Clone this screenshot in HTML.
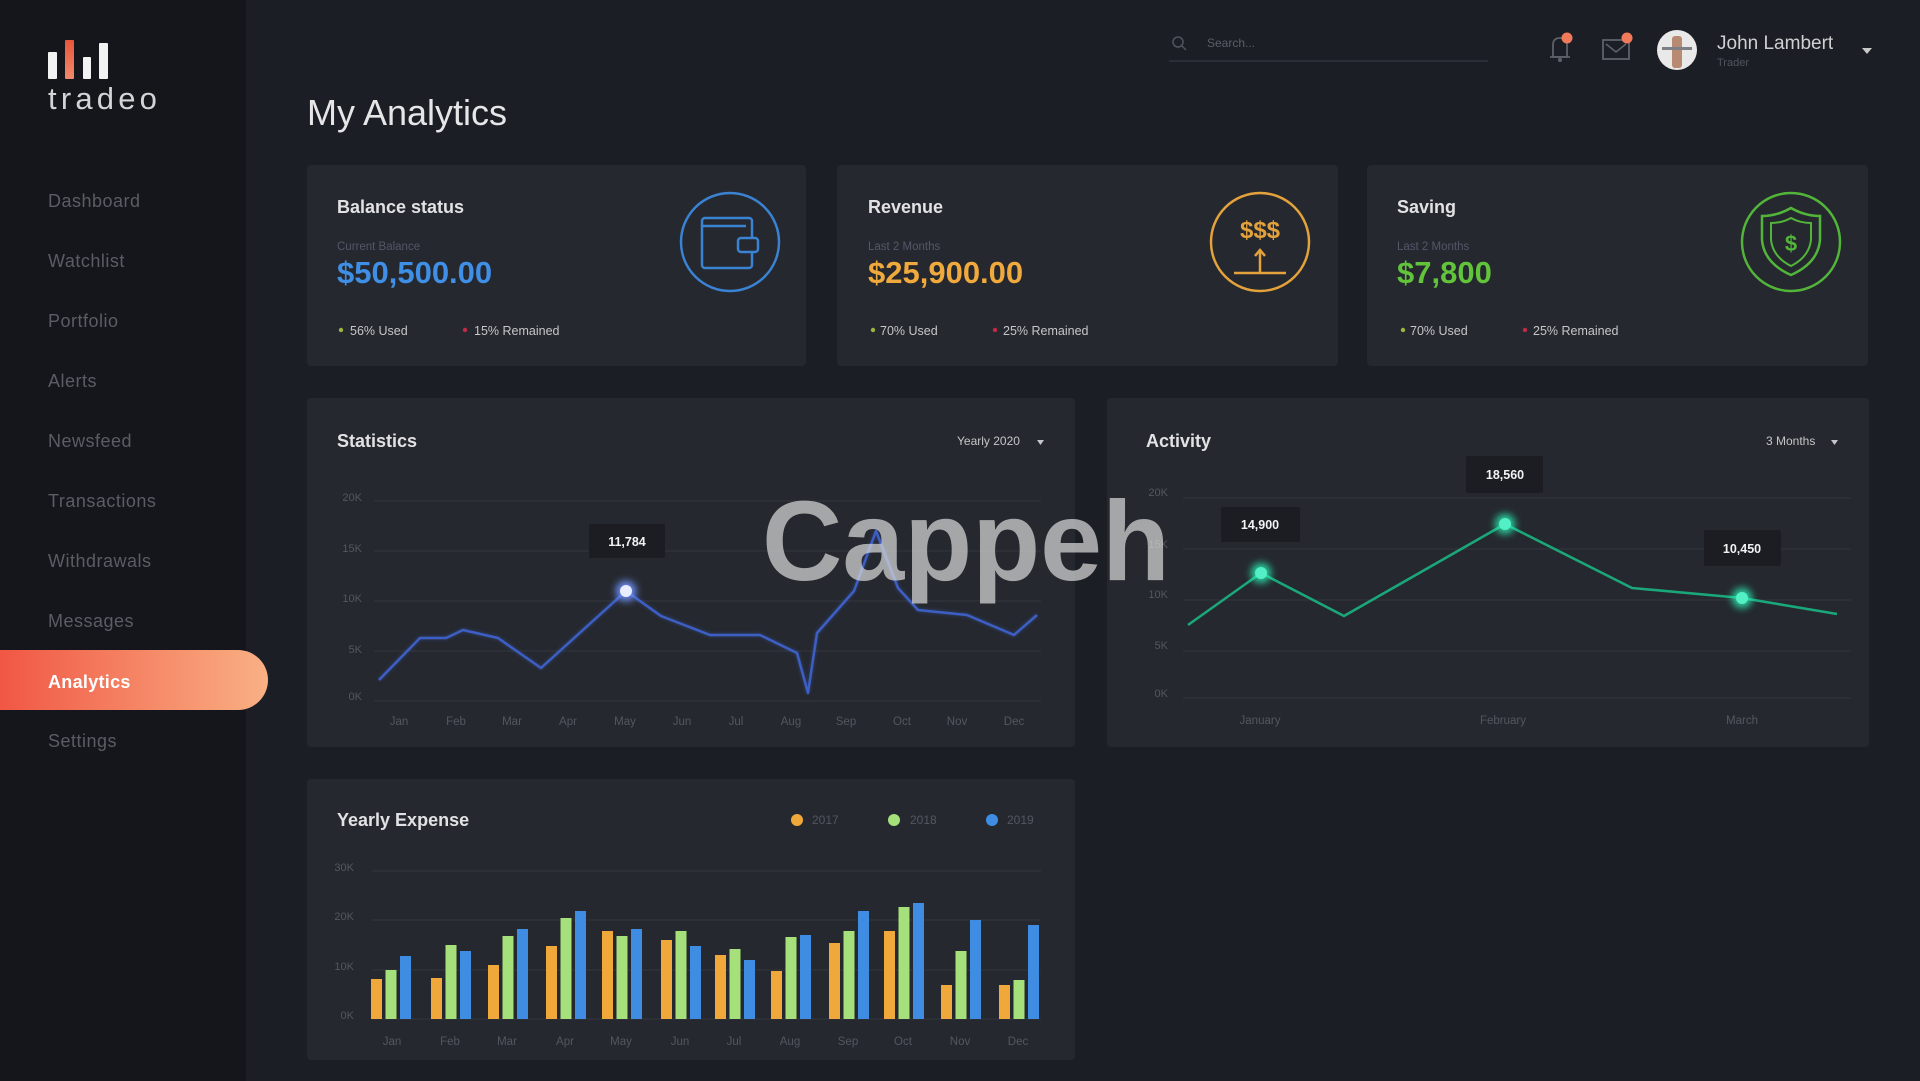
<!DOCTYPE html>
<html><head><meta charset="utf-8"><title>tradeo - My Analytics</title>
<style>
html,body{margin:0;padding:0;background:#1c1e25;width:1920px;height:1081px;overflow:hidden;}
svg{display:block;}
text{font-family:"Liberation Sans",sans-serif;}
</style></head>
<body>
<svg width="1920" height="1081" viewBox="0 0 1920 1081" xmlns="http://www.w3.org/2000/svg">
<defs>
 <linearGradient id="pill" x1="0" x2="1" y1="0" y2="0"><stop offset="0" stop-color="#ef4a3b"/><stop offset="1" stop-color="#f9b084"/></linearGradient>
 <linearGradient id="obar" x1="0" x2="0" y1="0" y2="1"><stop offset="0" stop-color="#e8553c"/><stop offset="1" stop-color="#f08a6a"/></linearGradient>
 <filter id="glow" x="-2" y="-2" width="5" height="5"><feGaussianBlur stdDeviation="4"/></filter>
 <filter id="soft" x="-0.1" y="-0.5" width="1.2" height="2"><feGaussianBlur stdDeviation="1.5"/></filter>
</defs>

<rect width="1920" height="1081" fill="#1c1e25"/>
<rect width="246" height="1081" fill="#14161b"/>

<rect x="48" y="52" width="9" height="27" rx="1" fill="#f2f2f2"/>
<rect x="65" y="40" width="9" height="39" rx="1" fill="url(#obar)"/>
<rect x="83" y="57" width="8" height="22" rx="1" fill="#f2f2f2"/>
<rect x="99" y="43" width="9" height="36" rx="1" fill="#f2f2f2"/>
<text x="48" y="109" font-size="31" fill="#d4d4d6" letter-spacing="4.2">tradeo</text>

<g font-size="18" fill="#5a5d65" letter-spacing="0.5">
 <text x="48" y="207">Dashboard</text>
 <text x="48" y="267">Watchlist</text>
 <text x="48" y="327">Portfolio</text>
 <text x="48" y="387">Alerts</text>
 <text x="48" y="447">Newsfeed</text>
 <text x="48" y="507">Transactions</text>
 <text x="48" y="567">Withdrawals</text>
 <text x="48" y="627">Messages</text>
 <text x="48" y="747">Settings</text>
</g>
<rect x="-40" y="650" width="308" height="60" rx="30" fill="url(#pill)"/>
<text x="48" y="688" font-size="18" font-weight="bold" fill="#ffffff" letter-spacing="0.3">Analytics</text>

<circle cx="1178" cy="42" r="5" fill="none" stroke="#50545c" stroke-width="1.5"/>
<line x1="1182" y1="46" x2="1186" y2="50" stroke="#50545c" stroke-width="1.5"/>
<text x="1207" y="47" font-size="12" fill="#5a5e66">Search...</text>
<line x1="1169" y1="61" x2="1488" y2="61" stroke="#2a2d35" stroke-width="2"/>
<path d="M1553 57 L1553 45 Q1553 38 1560 38 Q1567 38 1567 45 L1567 57 Z" fill="none" stroke="#5d6169" stroke-width="1.8"/>
<line x1="1550" y1="57" x2="1570" y2="57" stroke="#5d6169" stroke-width="1.8"/>
<circle cx="1560" cy="60" r="2" fill="#5d6169"/>
<circle cx="1567" cy="38" r="5.5" fill="#f07a5a"/>
<rect x="1603" y="40" width="26" height="19" fill="none" stroke="#5d6169" stroke-width="1.8"/>
<polyline points="1606,44 1616,52 1626,44" fill="none" stroke="#5d6169" stroke-width="1.6"/>
<circle cx="1627" cy="38" r="5.5" fill="#f07a5a"/>
<circle cx="1677" cy="50" r="20" fill="#e9e9ea"/>
<rect x="1672" y="36" width="10" height="32" rx="3" fill="#b88a72"/>
<rect x="1662" y="47" width="30" height="3" fill="#7d7f84"/>
<text x="1717" y="49" font-size="19" fill="#d0d0d2">John Lambert</text>
<text x="1717" y="66" font-size="11" fill="#50545c">Trader</text>
<polygon points="1862,48 1872,48 1867,54" fill="#c8c8c8"/>

<text x="307" y="125" font-size="36" fill="#e6e6e8">My Analytics</text>

<rect x="307" y="165" width="499" height="201" rx="4" fill="#25282e"/>
<rect x="837" y="165" width="501" height="201" rx="4" fill="#25282e"/>
<rect x="1367" y="165" width="501" height="201" rx="4" fill="#25282e"/>

<text x="337" y="213" font-size="18" font-weight="bold" fill="#e2e2e4">Balance status</text>
<text x="337" y="250" font-size="11.5" fill="#535869">Current Balance</text>
<text x="337" y="283" font-size="31" font-weight="bold" fill="#3f8fe6">$50,500.00</text>
<circle cx="341" cy="330" r="2.2" fill="#9bb43c"/>
<text x="350" y="335" font-size="12.5" fill="#c6c6c8">56% Used</text>
<circle cx="465" cy="330" r="2.2" fill="#c22a45"/>
<text x="474" y="335" font-size="12.5" fill="#c6c6c8">15% Remained</text>
<circle cx="730" cy="242" r="49" fill="none" stroke="#3a82d2" stroke-width="2.5"/>
<rect x="702" y="218" width="50" height="50" rx="3" fill="none" stroke="#3a82d2" stroke-width="2.5"/>
<line x1="702" y1="226" x2="746" y2="226" stroke="#3a82d2" stroke-width="2.5"/>
<rect x="738" y="238" width="20" height="14" rx="3" fill="#25282e" stroke="#3a82d2" stroke-width="2.5"/>

<text x="868" y="213" font-size="18" font-weight="bold" fill="#e2e2e4">Revenue</text>
<text x="868" y="250" font-size="11.5" fill="#535869">Last 2 Months</text>
<text x="868" y="283" font-size="31" font-weight="bold" fill="#f0a93c">$25,900.00</text>
<circle cx="873" cy="330" r="2.2" fill="#9bb43c"/>
<text x="880" y="335" font-size="12.5" fill="#c6c6c8">70% Used</text>
<circle cx="995" cy="330" r="2.2" fill="#c22a45"/>
<text x="1003" y="335" font-size="12.5" fill="#c6c6c8">25% Remained</text>
<circle cx="1260" cy="242" r="49" fill="none" stroke="#e3a23b" stroke-width="2.5"/>
<text x="1260" y="238" font-size="24" font-weight="bold" fill="#e3a23b" text-anchor="middle">$$$</text>
<line x1="1260" y1="250" x2="1260" y2="272" stroke="#e3a23b" stroke-width="2.5"/>
<polyline points="1255,256 1260,250 1265,256" fill="none" stroke="#e3a23b" stroke-width="2.5"/>
<line x1="1234" y1="273" x2="1286" y2="273" stroke="#e3a23b" stroke-width="2.5"/>

<text x="1397" y="213" font-size="18" font-weight="bold" fill="#e2e2e4">Saving</text>
<text x="1397" y="250" font-size="11.5" fill="#535869">Last 2 Months</text>
<text x="1397" y="283" font-size="31" font-weight="bold" fill="#62c43a">$7,800</text>
<circle cx="1403" cy="330" r="2.2" fill="#9bb43c"/>
<text x="1410" y="335" font-size="12.5" fill="#c6c6c8">70% Used</text>
<circle cx="1525" cy="330" r="2.2" fill="#c22a45"/>
<text x="1533" y="335" font-size="12.5" fill="#c6c6c8">25% Remained</text>
<circle cx="1791" cy="242" r="49" fill="none" stroke="#52b53a" stroke-width="2.5"/>
<path d="M1791 208 Q1805 216 1820 216 L1820 240 Q1818 263 1791 275 Q1764 263 1762 240 L1762 216 Q1777 216 1791 208 Z" fill="none" stroke="#52b53a" stroke-width="2.5"/>
<path d="M1791 218 Q1800 223 1811 223 L1811 240 Q1809 257 1791 266 Q1773 257 1771 240 L1771 223 Q1782 223 1791 218 Z" fill="none" stroke="#52b53a" stroke-width="2"/>
<text x="1791" y="251" font-size="22" font-weight="bold" fill="#52b53a" text-anchor="middle">$</text>

<rect x="307" y="398" width="768" height="349" rx="4" fill="#25282e"/>
<text x="337" y="447" font-size="18" font-weight="bold" fill="#e2e2e4">Statistics</text>
<text x="957" y="445" font-size="12" fill="#c6c6c8">Yearly 2020</text>
<polygon points="1037,440 1044,440 1040.5,445" fill="#c6c6c8"/>
<g stroke="#2f3239" stroke-width="1.5">
 <line x1="374" y1="501" x2="1041" y2="501"/>
 <line x1="374" y1="551" x2="1041" y2="551"/>
 <line x1="374" y1="601" x2="1041" y2="601"/>
 <line x1="374" y1="651" x2="1041" y2="651"/>
 <line x1="374" y1="701" x2="1041" y2="701"/>
</g>
<g font-size="11" fill="#53575f" text-anchor="end">
 <text x="362" y="501">20K</text>
 <text x="362" y="552">15K</text>
 <text x="362" y="602">10K</text>
 <text x="362" y="653">5K</text>
 <text x="362" y="700">0K</text>
</g>
<g font-size="11.5" fill="#53575f" text-anchor="middle">
 <text x="399" y="725">Jan</text><text x="456" y="725">Feb</text><text x="512" y="725">Mar</text>
 <text x="568" y="725">Apr</text><text x="625" y="725">May</text><text x="682" y="725">Jun</text>
 <text x="736" y="725">Jul</text><text x="791" y="725">Aug</text><text x="846" y="725">Sep</text>
 <text x="902" y="725">Oct</text><text x="957" y="725">Nov</text><text x="1014" y="725">Dec</text>
</g>
<polyline points="379,680 420,638 446,638 463,630 498,638 541,668 626,591 661,616 710,635 760,635 797,653 808,693 817,633 854,591 876,531 898,588 918,610 967,615 1014,635 1037,615" fill="none" stroke="#3a5bbd" stroke-width="4" opacity="0.35" filter="url(#soft)"/>
<polyline points="379,680 420,638 446,638 463,630 498,638 541,668 626,591 661,616 710,635 760,635 797,653 808,693 817,633 854,591 876,531 898,588 918,610 967,615 1014,635 1037,615" fill="none" stroke="#3d5fc4" stroke-width="2.5" stroke-linejoin="round"/>
<circle cx="626" cy="591" r="10" fill="#6f93ff" filter="url(#glow)"/>
<circle cx="626" cy="591" r="6" fill="#e8eeff"/>
<rect x="589" y="524" width="76" height="34" rx="2" fill="#1b1d22"/>
<text x="627" y="546" font-size="12.5" font-weight="bold" fill="#f2f2f2" text-anchor="middle">11,784</text>

<rect x="1107" y="398" width="762" height="349" rx="4" fill="#25282e"/>
<text x="1146" y="447" font-size="18" font-weight="bold" fill="#e2e2e4">Activity</text>
<text x="1766" y="445" font-size="12" fill="#c6c6c8">3 Months</text>
<polygon points="1831,440 1838,440 1834.5,445" fill="#c6c6c8"/>
<g stroke="#2f3239" stroke-width="1.5">
 <line x1="1183" y1="498" x2="1851" y2="498"/>
 <line x1="1183" y1="549" x2="1851" y2="549"/>
 <line x1="1183" y1="600" x2="1851" y2="600"/>
 <line x1="1183" y1="651" x2="1851" y2="651"/>
 <line x1="1183" y1="698" x2="1851" y2="698"/>
</g>
<g font-size="11" fill="#53575f" text-anchor="end">
 <text x="1168" y="496">20K</text>
 <text x="1168" y="548">15K</text>
 <text x="1168" y="598">10K</text>
 <text x="1168" y="649">5K</text>
 <text x="1168" y="697">0K</text>
</g>
<g font-size="11.5" fill="#53575f" text-anchor="middle">
 <text x="1260" y="724">January</text><text x="1503" y="724">February</text><text x="1742" y="724">March</text>
</g>
<polyline points="1188,625 1261,573 1344,616 1505,524 1632,588 1742,598 1837,614" fill="none" stroke="#1aa77a" stroke-width="2.6" stroke-linejoin="round"/>
<g>
 <circle cx="1261" cy="573" r="10" fill="#2bffc0" filter="url(#glow)" opacity="0.8"/>
 <circle cx="1261" cy="573" r="6" fill="#52f0c4"/>
 <circle cx="1505" cy="524" r="10" fill="#2bffc0" filter="url(#glow)" opacity="0.8"/>
 <circle cx="1505" cy="524" r="6" fill="#52f0c4"/>
 <circle cx="1742" cy="598" r="10" fill="#2bffc0" filter="url(#glow)" opacity="0.8"/>
 <circle cx="1742" cy="598" r="6" fill="#52f0c4"/>
</g>
<rect x="1221" y="507" width="79" height="35" rx="2" fill="#1b1d22"/>
<text x="1260" y="529" font-size="12.5" font-weight="bold" fill="#f2f2f2" text-anchor="middle">14,900</text>
<rect x="1466" y="456" width="77" height="37" rx="2" fill="#1b1d22"/>
<text x="1505" y="479" font-size="12.5" font-weight="bold" fill="#f2f2f2" text-anchor="middle">18,560</text>
<rect x="1704" y="530" width="77" height="36" rx="2" fill="#1b1d22"/>
<text x="1742" y="553" font-size="12.5" font-weight="bold" fill="#f2f2f2" text-anchor="middle">10,450</text>

<rect x="307" y="779" width="768" height="281" rx="4" fill="#25282e"/>
<text x="337" y="826" font-size="18" font-weight="bold" fill="#e2e2e4">Yearly Expense</text>
<circle cx="797" cy="820" r="6" fill="#f0a83a"/>
<text x="812" y="824" font-size="12" fill="#53575f">2017</text>
<circle cx="894" cy="820" r="6" fill="#a6e07a"/>
<text x="910" y="824" font-size="12" fill="#53575f">2018</text>
<circle cx="992" cy="820" r="6" fill="#3f8de2"/>
<text x="1007" y="824" font-size="12" fill="#53575f">2019</text>
<g stroke="#2f3239" stroke-width="1.5">
 <line x1="372" y1="871" x2="1041" y2="871"/>
 <line x1="372" y1="920" x2="1041" y2="920"/>
 <line x1="372" y1="970" x2="1041" y2="970"/>
 <line x1="372" y1="1019" x2="1041" y2="1019"/>
</g>
<g font-size="11" fill="#53575f" text-anchor="end">
 <text x="354" y="871">30K</text>
 <text x="354" y="920">20K</text>
 <text x="354" y="970">10K</text>
 <text x="354" y="1019">0K</text>
</g>
<g fill="#f0a83a">
 <rect x="371" y="979" width="11" height="40"/>
 <rect x="431" y="978" width="11" height="41"/>
 <rect x="488" y="965" width="11" height="54"/>
 <rect x="546" y="946" width="11" height="73"/>
 <rect x="602" y="931" width="11" height="88"/>
 <rect x="661" y="940" width="11" height="79"/>
 <rect x="715" y="955" width="11" height="64"/>
 <rect x="771" y="971" width="11" height="48"/>
 <rect x="829" y="943" width="11" height="76"/>
 <rect x="884" y="931" width="11" height="88"/>
 <rect x="941" y="985" width="11" height="34"/>
 <rect x="999" y="985" width="11" height="34"/>
</g>
<g fill="#a6e07a">
 <rect x="385.5" y="970" width="11" height="49"/>
 <rect x="445.5" y="945" width="11" height="74"/>
 <rect x="502.5" y="936" width="11" height="83"/>
 <rect x="560.5" y="918" width="11" height="101"/>
 <rect x="616.5" y="936" width="11" height="83"/>
 <rect x="675.5" y="931" width="11" height="88"/>
 <rect x="729.5" y="949" width="11" height="70"/>
 <rect x="785.5" y="937" width="11" height="82"/>
 <rect x="843.5" y="931" width="11" height="88"/>
 <rect x="898.5" y="907" width="11" height="112"/>
 <rect x="955.5" y="951" width="11" height="68"/>
 <rect x="1013.5" y="980" width="11" height="39"/>
</g>
<g fill="#3f8de2">
 <rect x="400" y="956" width="11" height="63"/>
 <rect x="460" y="951" width="11" height="68"/>
 <rect x="517" y="929" width="11" height="90"/>
 <rect x="575" y="911" width="11" height="108"/>
 <rect x="631" y="929" width="11" height="90"/>
 <rect x="690" y="946" width="11" height="73"/>
 <rect x="744" y="960" width="11" height="59"/>
 <rect x="800" y="935" width="11" height="84"/>
 <rect x="858" y="911" width="11" height="108"/>
 <rect x="913" y="903" width="11" height="116"/>
 <rect x="970" y="920" width="11" height="99"/>
 <rect x="1028" y="925" width="11" height="94"/>
</g>
<g font-size="11.5" fill="#53575f" text-anchor="middle">
 <text x="392" y="1045">Jan</text><text x="450" y="1045">Feb</text><text x="507" y="1045">Mar</text>
 <text x="565" y="1045">Apr</text><text x="621" y="1045">May</text><text x="680" y="1045">Jun</text>
 <text x="734" y="1045">Jul</text><text x="790" y="1045">Aug</text><text x="848" y="1045">Sep</text>
 <text x="903" y="1045">Oct</text><text x="960" y="1045">Nov</text><text x="1018" y="1045">Dec</text>
</g>

<text x="762" y="580" font-size="113" font-weight="bold" fill="#dcdcdc" opacity="0.7" textLength="408" lengthAdjust="spacingAndGlyphs">Cappeh</text>
</svg>
</body></html>
